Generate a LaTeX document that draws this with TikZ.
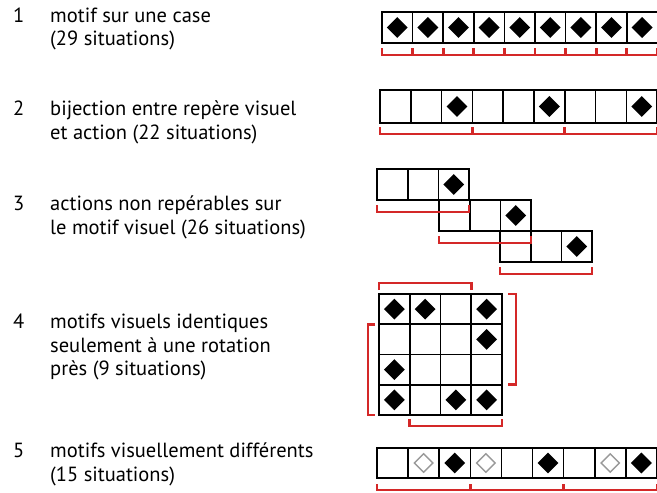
\documentclass[tikz,border=0pt]{standalone}
\usepackage{fontspec}
\setmainfont{PT Sans}
\usetikzlibrary{shapes.geometric}

\definecolor{bracketred}{RGB}{212,40,40}

\tikzset{
    cell/.style={draw, line width=1.6pt, minimum width=30.6pt, minimum height=31pt, inner sep=0pt, outer sep=0pt},
    gem/.style={diamond, fill=black, minimum size=21pt, inner sep=0pt},
    hollowgem/.style={diamond, draw=black!40, line width=1.4pt, minimum size=19pt, inner sep=0pt},
    brk/.style={draw=bracketred, line width=2.7pt, line join=miter},
    num/.style={anchor=base west, inner sep=0pt, font=\fontsize{20.5pt}{23.5pt}\selectfont},
    desc/.style={anchor=base west, inner sep=0pt, align=left, font=\fontsize{20.5pt}{23.5pt}\selectfont}
}

\begin{document}
\begin{tikzpicture}[x=1pt, y=-1pt]
    \useasboundingbox (0,0) rectangle (657,493);

    % textes (ancre sur la derniere ligne)
    \node[num] (n1) at (13,22) {1};
    \node[desc] (t1) at (50,45.5) {motif sur une case\\(29 situations)};
    \node[num] (n2) at (13,115.5) {2};
    \node[desc] (t2) at (50,139) {bijection entre repère visuel\\et action (22 situations)};
    \node[num] (n3) at (13,210.5) {3};
    \node[desc] (t3) at (50,234) {actions non repérables sur\\le motif visuel (26 situations)};
    \node[num] (n4) at (13,328.5) {4};
    \node[desc] (t4) at (50,375.5) {motifs visuels identiques\\seulement à une rotation\\près (9 situations)};
    \node[num] (n5) at (13,457.5) {5};
    \node[desc] (t5) at (50,481) {motifs visuellement différents\\(15 situations)};

    % 1 : motif sur une case
    \foreach \i in {1,...,9}
        \node[cell] (a\i) at ({382+30.6*(\i-0.5)},27.5) {};
    \foreach \i in {1,...,9}
        \node[gem] (ga\i) at (a\i) {};
    \draw[brk] ([yshift=-5pt]a1.south west) -- ([yshift=-12pt]a1.south west) -- ([yshift=-12pt]a9.south east) -- ([yshift=-5pt]a9.south east);
    \foreach \i in {1,...,8}
        \draw[brk] ([yshift=-5pt]a\i.south east) -- ([yshift=-12pt]a\i.south east);

    % 2 : bijection
    \foreach \i in {1,...,9}
        \node[cell, minimum width=30.8pt, minimum height=33pt] (b\i) at ({380+30.8*(\i-0.5)},106.5) {};
    \foreach \i in {3,6,9}
        \node[gem] (gb\i) at (b\i) {};
    \draw[brk] ([yshift=-4pt]b1.south west) -- ([yshift=-11pt]b1.south west) -- ([yshift=-11pt]b9.south east) -- ([yshift=-4pt]b9.south east);
    \foreach \i in {3,6}
        \draw[brk] ([yshift=-4pt]b\i.south east) -- ([yshift=-11pt]b\i.south east);

    % 3 : actions non reperables
    \foreach \i in {1,2,3}
        \node[cell, minimum width=30.7pt] (c\i) at ({377+30.7*(\i-0.5)},184.5) {};
    \foreach \i in {4,5,6}
        \node[cell, minimum width=30.7pt] (c\i) at ({439+30.7*(\i-3.5)},215.5) {};
    \foreach \i in {7,8,9}
        \node[cell, minimum width=30.7pt] (c\i) at ({500+30.7*(\i-6.5)},246.5) {};
    \foreach \i in {3,6,9}
        \node[gem] (gc\i) at (c\i) {};
    \draw[brk] ([yshift=-5pt]c1.south west) -- ([yshift=-12pt]c1.south west) -- ([yshift=-12pt]c3.south east) -- ([yshift=-5pt]c3.south east);
    \draw[brk] ([yshift=-5pt]c4.south west) -- ([yshift=-12pt]c4.south west) -- ([yshift=-12pt]c6.south east) -- ([yshift=-5pt]c6.south east);
    \draw[brk] ([yshift=-5pt]c7.south west) -- ([yshift=-12pt]c7.south west) -- ([yshift=-12pt]c9.south east) -- ([yshift=-5pt]c9.south east);

    % 4 : rotation
    \foreach \r in {1,...,4}
        \foreach \c in {1,...,4}
            \node[cell, minimum width=30.75pt, minimum height=30.25pt] (e\r\c) at ({379+30.75*(\c-0.5)},{294+30.25*(\r-0.5)}) {};
    \foreach \k in {11,12,14,24,31,41,43,44}
        \node[gem] (ge\k) at (e\k) {};
    \draw[brk] ([yshift=4pt]e11.north west) -- ([yshift=11pt]e11.north west) -- ([yshift=11pt]e13.north east) -- ([yshift=4pt]e13.north east);
    \draw[brk] ([xshift=6pt]e14.north east) -- ([xshift=14pt]e14.north east) -- ([xshift=14pt]e34.south east) -- ([xshift=6pt]e34.south east);
    \draw[brk] ([xshift=-4pt]e21.north west) -- ([xshift=-11pt]e21.north west) -- ([xshift=-11pt]e41.south west) -- ([xshift=-4pt]e41.south west);
    \draw[brk] ([yshift=-4pt]e42.south west) -- ([yshift=-11pt]e42.south west) -- ([yshift=-11pt]e44.south east) -- ([yshift=-4pt]e44.south east);

    % 5 : motifs differents
    \foreach \i in {1,...,9}
        \node[cell, minimum width=31.1pt, minimum height=30pt] (f\i) at ({377+31.1*(\i-0.5)},463) {};
    \foreach \i in {3,6,9}
        \node[gem] (gf\i) at (f\i) {};
    \foreach \i in {2,4,8}
        \node[hollowgem] (hf\i) at (f\i) {};
    \draw[brk] ([yshift=-6pt]f1.south west) -- ([yshift=-12pt]f1.south west) -- ([yshift=-12pt]f9.south east) -- ([yshift=-6pt]f9.south east);
    \foreach \i in {3,6}
        \draw[brk] ([yshift=-6pt]f\i.south east) -- ([yshift=-12pt]f\i.south east);

\end{tikzpicture}
\end{document}
